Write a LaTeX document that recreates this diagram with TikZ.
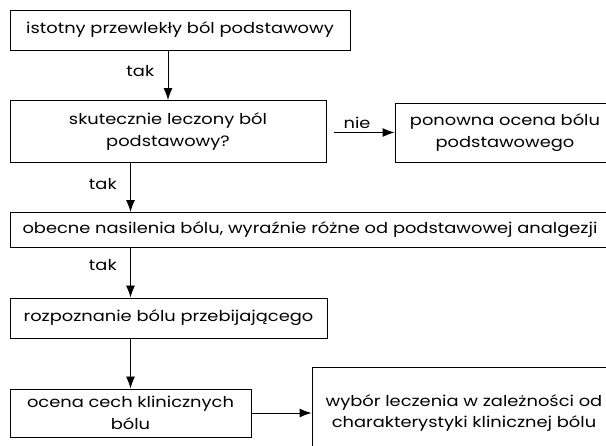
\documentclass[tikz,border=0pt]{standalone}
\usepackage{fontspec}
\setmainfont[FakeStretch=1.19]{Poppins}
\usetikzlibrary{arrows.meta, positioning, calc}
\newcommand{\fsz}{\fontsize{15}{21.5}\selectfont}

\begin{document}
\begin{tikzpicture}[x=1pt, y=-1pt,
    box/.style={draw, line width=0.9pt, inner sep=0pt, align=center, font=\fsz},
    lbl/.style={font=\fsz},
    arr/.style={-{Latex[length=12pt,width=9pt]}, line width=0.9pt}]
  \useasboundingbox (0,0) rectangle (606,446);
  \clip (0,0) rectangle (606,446);

  % boxes
  \node[box, minimum width=340pt, minimum height=40pt] (bol) at (180,30) {istotny przewlekły ból podstawowy};
  \node[box, minimum width=316pt, minimum height=62pt] (skut) at (168,131.5) {skutecznie leczony ból\\podstawowy?};
  \node[box, minimum width=220pt, minimum height=59pt] (ocena) at (505,132.5) {ponowna ocena bólu\\podstawowego};
  \node[box, minimum width=600pt, minimum height=35pt] (nasil) at (310,230) {obecne nasilenia bólu, wyraźnie różne od podstawowej analgezji};
  \node[box, minimum width=317pt, minimum height=40pt] (rozp) at (168.5,318) {rozpoznanie bólu przebijającego};
  \node[box, minimum width=241pt, minimum height=48pt] (cechy) at (130.5,413) {ocena cech klinicznych\\bólu};
  \node[box, minimum width=304pt, minimum height=92pt] (wybor) at (464,413) {wybór leczenia w zależności od\\charakterystyki klinicznej bólu};

  % connectors
  \draw[arr] (bol.south -| skut.north) -- node[lbl, left=10pt, pos=0.42] {tak} (skut.north);
  \draw[arr, shorten <=8pt] (skut.east |- ocena.west) -- node[lbl, above, pos=0.45] {nie} (ocena.west);
  \draw[arr] (skut.south -| cechy.north) -- node[lbl, left=10pt, pos=0.42] {tak} (nasil.north -| cechy.north);
  \draw[arr] (nasil.south -| cechy.north) -- node[lbl, left=10pt, pos=0.35] {tak} (rozp.north -| cechy.north);
  \draw[arr] (rozp.south -| cechy.north) -- (cechy.north);
  \draw[arr] (cechy.east) -- (wybor.west);
\end{tikzpicture}
\end{document}
